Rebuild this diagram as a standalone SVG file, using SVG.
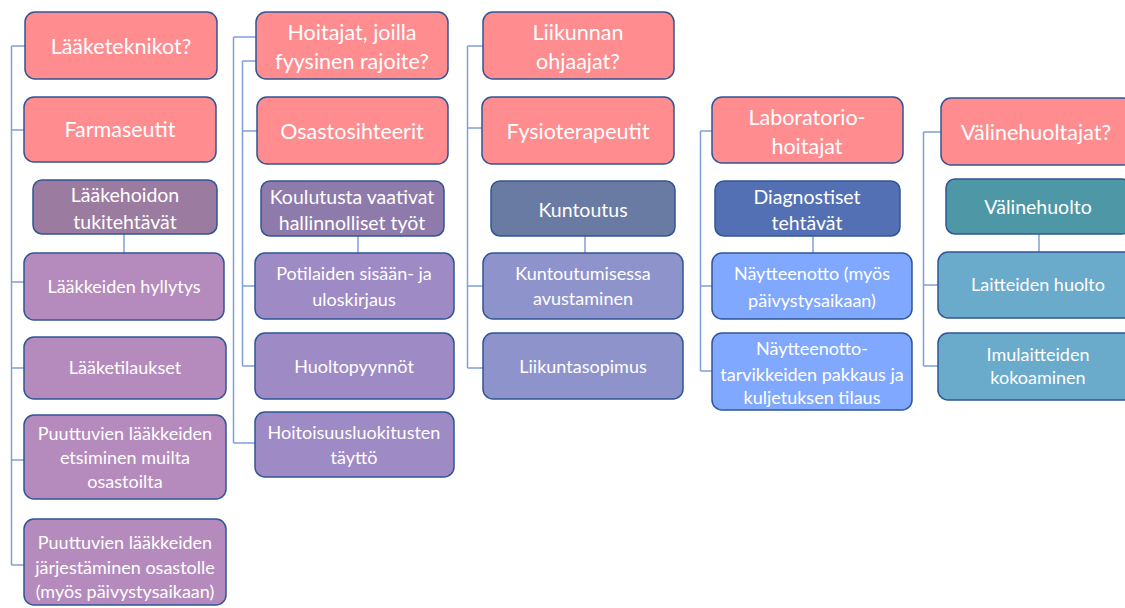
<svg xmlns="http://www.w3.org/2000/svg" width="1125" height="608" viewBox="0 0 1125 608">
  <style>
    .box { stroke: #2F5597; stroke-width: 1.5; }
    .role { fill: #FF8C8F; }
    .t { fill: #FFFFFF; font-family: Lato, "Liberation Sans", sans-serif; text-anchor: middle; }
    .t1 { font-size: 21.5px; }
    .t2 { font-size: 19.5px; }
    .t3 { font-size: 18px; }
    .link { fill: none; stroke: #7F9FD8; stroke-width: 1.5; }
  </style>
  <rect width="1125" height="608" fill="#FFFFFF"/>

  <!-- connectors -->
  <g id="connectors" class="link">
    <!-- column 1 -->
    <path d="M11.5,46 V565 M11.5,46 H25 M11.5,130 H24 M11.5,282 H24 M11.5,368 H24 M11.5,460 H24 M11.5,565 H24"/>
    <path d="M124,234 V253"/>
    <!-- column 2 -->
    <path d="M233.5,37 V443 M233.5,37 H256 M233.5,443 H255"/>
    <path d="M242.5,61 V366 M242.5,61 H256 M242.5,131 H257 M242.5,286 H255 M242.5,366 H255"/>
    <path d="M358,236 V253"/>
    <!-- column 3 -->
    <path d="M467.5,46 V368 M467.5,46 H483 M467.5,128 H482 M467.5,286 H483 M467.5,368 H483"/>
    <path d="M585,236 V253"/>
    <!-- column 4 -->
    <path d="M700.5,131 V371 M700.5,131 H712 M700.5,286 H712 M700.5,371 H712"/>
    <path d="M813,236 V253"/>
    <!-- column 5 -->
    <path d="M923.5,132 V366 M923.5,132 H941 M923.5,285 H938 M923.5,366 H938"/>
    <path d="M1039,234 V252"/>
  </g>

  <!-- column 1 -->
  <g id="laaketeknikot">
    <rect class="box role" x="25" y="12" width="192" height="67" rx="10"/>
    <text class="t t1" x="121" y="54">Lääketeknikot?</text>
  </g>
  <g id="farmaseutit">
    <rect class="box role" x="24" y="97" width="192" height="65" rx="10"/>
    <text class="t t1" x="120" y="137">Farmaseutit</text>
  </g>
  <g id="laakehoidon-tukitehtavat">
    <rect class="box" fill="#9B7BA0" x="33" y="180" width="184" height="54" rx="9"/>
    <text class="t t2" x="125" y="202">Lääkehoidon</text>
    <text class="t t2" x="125" y="229">tukitehtävät</text>
  </g>
  <g id="laakkeiden-hyllytys">
    <rect class="box" fill="#B58BBD" x="24" y="253" width="200" height="67" rx="10"/>
    <text class="t t3" x="124" y="293">Lääkkeiden hyllytys</text>
  </g>
  <g id="laaketilaukset">
    <rect class="box" fill="#B58BBD" x="24" y="337" width="202" height="62" rx="10"/>
    <text class="t t3" x="125" y="374">Lääketilaukset</text>
  </g>
  <g id="puuttuvien-etsiminen">
    <rect class="box" fill="#B58BBD" x="24" y="415" width="202" height="84" rx="10"/>
    <text class="t t3" x="125" y="440">Puuttuvien lääkkeiden</text>
    <text class="t t3" x="125" y="464">etsiminen muilta</text>
    <text class="t t3" x="125" y="488">osastoilta</text>
  </g>
  <g id="puuttuvien-jarjestaminen">
    <rect class="box" fill="#B58BBD" x="24" y="519" width="202" height="86" rx="10"/>
    <text class="t t3" x="125" y="549">Puuttuvien lääkkeiden</text>
    <text class="t t3" x="125" y="574">järjestäminen osastolle</text>
    <text class="t t3" x="125" y="598">(myös päivystysaikaan)</text>
  </g>

  <!-- column 2 -->
  <g id="hoitajat">
    <rect class="box role" x="256" y="12" width="192" height="67" rx="10"/>
    <text class="t t1" x="352" y="40">Hoitajat, joilla</text>
    <text class="t t1" x="352" y="69">fyysinen rajoite?</text>
  </g>
  <g id="osastosihteerit">
    <rect class="box role" x="257" y="97" width="191" height="67" rx="10"/>
    <text class="t t1" x="352" y="139">Osastosihteerit</text>
  </g>
  <g id="hallinnolliset-tyot">
    <rect class="box" fill="#8E7BAB" x="261" y="181" width="183" height="55" rx="9"/>
    <text class="t t2" x="352" y="204">Koulutusta vaativat</text>
    <text class="t t2" x="352" y="230">hallinnolliset työt</text>
  </g>
  <g id="potilaiden-kirjaus">
    <rect class="box" fill="#9E8AC4" x="255" y="253" width="199" height="66" rx="10"/>
    <text class="t t3" x="354" y="280">Potilaiden sisään- ja</text>
    <text class="t t3" x="354" y="306">uloskirjaus</text>
  </g>
  <g id="huoltopyynnot">
    <rect class="box" fill="#9E8AC4" x="255" y="333" width="199" height="66" rx="10"/>
    <text class="t t3" x="354" y="373">Huoltopyynnöt</text>
  </g>
  <g id="hoitoisuusluokitus">
    <rect class="box" fill="#9E8AC4" x="255" y="412" width="199" height="65" rx="10"/>
    <text class="t t3" x="354" y="439">Hoitoisuusluokitusten</text>
    <text class="t t3" x="354" y="464">täyttö</text>
  </g>

  <!-- column 3 -->
  <g id="liikunnan-ohjaajat">
    <rect class="box role" x="483" y="12" width="191" height="67" rx="10"/>
    <text class="t t1" x="578" y="40">Liikunnan</text>
    <text class="t t1" x="578" y="69">ohjaajat?</text>
  </g>
  <g id="fysioterapeutit">
    <rect class="box role" x="482" y="97" width="192" height="67" rx="10"/>
    <text class="t t1" x="578" y="139">Fysioterapeutit</text>
  </g>
  <g id="kuntoutus">
    <rect class="box" fill="#6A7BA3" x="491" y="181" width="184" height="55" rx="9"/>
    <text class="t t2" x="583" y="217">Kuntoutus</text>
  </g>
  <g id="kuntoutumisessa-avustaminen">
    <rect class="box" fill="#8F93CC" x="483" y="253" width="200" height="66" rx="10"/>
    <text class="t t3" x="583" y="280">Kuntoutumisessa</text>
    <text class="t t3" x="583" y="305">avustaminen</text>
  </g>
  <g id="liikuntasopimus">
    <rect class="box" fill="#8F93CC" x="483" y="333" width="200" height="66" rx="10"/>
    <text class="t t3" x="583" y="373">Liikuntasopimus</text>
  </g>

  <!-- column 4 -->
  <g id="laboratoriohoitajat">
    <rect class="box role" x="712" y="97" width="191" height="66" rx="10"/>
    <text class="t t1" x="807" y="125">Laboratorio-</text>
    <text class="t t1" x="807" y="154">hoitajat</text>
  </g>
  <g id="diagnostiset-tehtavat">
    <rect class="box" fill="#5470B4" x="715" y="181" width="185" height="55" rx="9"/>
    <text class="t t2" x="807" y="204">Diagnostiset</text>
    <text class="t t2" x="807" y="230">tehtävät</text>
  </g>
  <g id="naytteenotto">
    <rect class="box" fill="#80A8FF" x="712" y="253" width="200" height="66" rx="10"/>
    <text class="t t3" x="812" y="280">Näytteenotto (myös</text>
    <text class="t t3" x="812" y="307">päivystysaikaan)</text>
  </g>
  <g id="tarvikkeiden-pakkaus">
    <rect class="box" fill="#80A8FF" x="712" y="333" width="200" height="77" rx="10"/>
    <text class="t t3" x="812" y="355">Näytteenotto-</text>
    <text class="t t3" x="812" y="381">tarvikkeiden pakkaus ja</text>
    <text class="t t3" x="812" y="404">kuljetuksen tilaus</text>
  </g>

  <!-- column 5 -->
  <g id="valinehuoltajat">
    <rect class="box role" x="941" y="98" width="192" height="67" rx="10"/>
    <text class="t t1" x="1036" y="140">Välinehuoltajat?</text>
  </g>
  <g id="valinehuolto">
    <rect class="box" fill="#4E97A6" x="946" y="179" width="185" height="55" rx="9"/>
    <text class="t t2" x="1038" y="214">Välinehuolto</text>
  </g>
  <g id="laitteiden-huolto">
    <rect class="box" fill="#6AAACB" x="938" y="252" width="200" height="66" rx="10"/>
    <text class="t t3" x="1038" y="291">Laitteiden huolto</text>
  </g>
  <g id="imulaitteiden-kokoaminen">
    <rect class="box" fill="#6AAACB" x="938" y="333" width="200" height="67" rx="10"/>
    <text class="t t3" x="1038" y="361">Imulaitteiden</text>
    <text class="t t3" x="1038" y="384">kokoaminen</text>
  </g>
</svg>
